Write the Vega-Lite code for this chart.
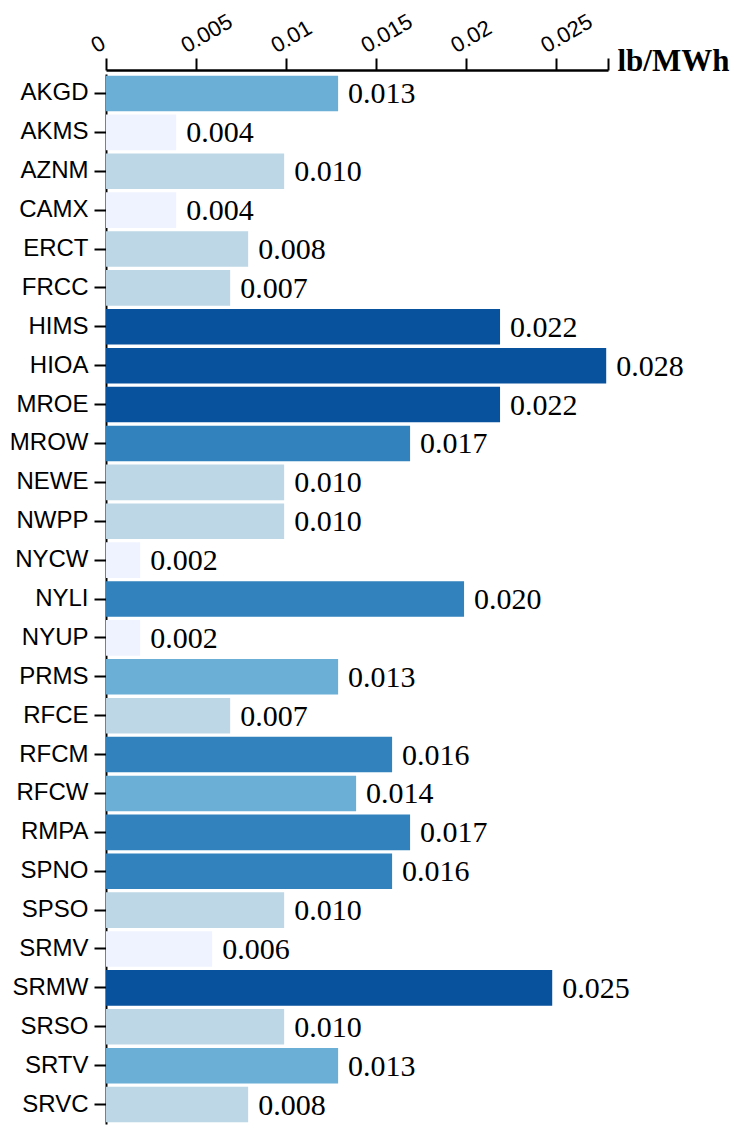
{
  "$schema": "https://vega.github.io/schema/vega-lite/v6.json",
  "width": 502,
  "height": 1050,
  "autosize": {"type": "none"},
  "padding": {"left": 106, "top": 74, "right": 125, "bottom": 2},
  "background": "white",
  "data": {"values": [
    {"region": "AKGD", "value": 0.0129},
    {"region": "AKMS", "value": 0.0039},
    {"region": "AZNM", "value": 0.0099},
    {"region": "CAMX", "value": 0.0039},
    {"region": "ERCT", "value": 0.0079},
    {"region": "FRCC", "value": 0.0069},
    {"region": "HIMS", "value": 0.0219},
    {"region": "HIOA", "value": 0.0278},
    {"region": "MROE", "value": 0.0219},
    {"region": "MROW", "value": 0.0169},
    {"region": "NEWE", "value": 0.0099},
    {"region": "NWPP", "value": 0.0099},
    {"region": "NYCW", "value": 0.0019},
    {"region": "NYLI", "value": 0.0199},
    {"region": "NYUP", "value": 0.0019},
    {"region": "PRMS", "value": 0.0129},
    {"region": "RFCE", "value": 0.0069},
    {"region": "RFCM", "value": 0.0159},
    {"region": "RFCW", "value": 0.0139},
    {"region": "RMPA", "value": 0.0169},
    {"region": "SPNO", "value": 0.0159},
    {"region": "SPSO", "value": 0.0099},
    {"region": "SRMV", "value": 0.0059},
    {"region": "SRMW", "value": 0.0248},
    {"region": "SRSO", "value": 0.0099},
    {"region": "SRTV", "value": 0.0129},
    {"region": "SRVC", "value": 0.0079}
  ]},
  "encoding": {
    "y": {
      "field": "region", "type": "nominal", "sort": null,
      "scale": {"paddingInner": 0.085, "paddingOuter": 0.0425},
      "axis": {
        "title": null, "labelFont": "Liberation Sans", "labelFontSize": 24,
        "labelColor": "black", "tickSize": 12, "tickWidth": 2, "tickColor": "black",
        "domainColor": "black", "domainWidth": 2, "labelPadding": 6, "grid": false
      }
    },
    "x": {
      "field": "value", "type": "quantitative",
      "scale": {"domain": [0, 0.0279], "nice": false},
      "axis": {
        "orient": "top", "offset": 4, "grid": false,
        "values": [0, 0.005, 0.01, 0.015, 0.02, 0.025, 0.0279],
        "labelExpr": "datum.value > 0.026 ? '' : format(datum.value, '~g')",
        "labelAngle": -30, "labelAlign": "left", "labelBaseline": "alphabetic",
        "labelFont": "Liberation Sans", "labelFontSize": 22, "labelColor": "black",
        "labelPadding": 5, "labelOffset": -10, "labelBound": false, "labelOverlap": false, "labelFlush": false,
        "tickSize": 12, "tickWidth": 2, "tickColor": "black",
        "domainColor": "black", "domainWidth": 2.5,
        "title": "lb/MWh", "titleFont": "Liberation Serif", "titleFontSize": 31,
        "titleFontWeight": "bold", "titleColor": "black",
        "titleX": 511, "titleY": 0, "titleAlign": "left", "titleBaseline": "alphabetic", "titleAngle": 0
      }
    }
  },
  "layer": [
    {
      "mark": {"type": "bar"},
      "encoding": {
        "color": {
          "field": "value", "type": "quantitative",
          "scale": {"type": "threshold", "domain": [0.0065, 0.012, 0.015, 0.021],
                    "range": ["#eff3ff", "#bdd7e7", "#6baed6", "#3182bd", "#08519c"]},
          "legend": null
        }
      }
    },
    {
      "mark": {"type": "text", "align": "left", "baseline": "middle", "dx": 10, "dy": 1,
               "font": "Liberation Serif", "fontSize": 30, "color": "black"},
      "encoding": {
        "text": {"field": "value", "type": "quantitative", "format": ".3f"}
      }
    }
  ],
  "config": {"view": {"stroke": null}}
}
